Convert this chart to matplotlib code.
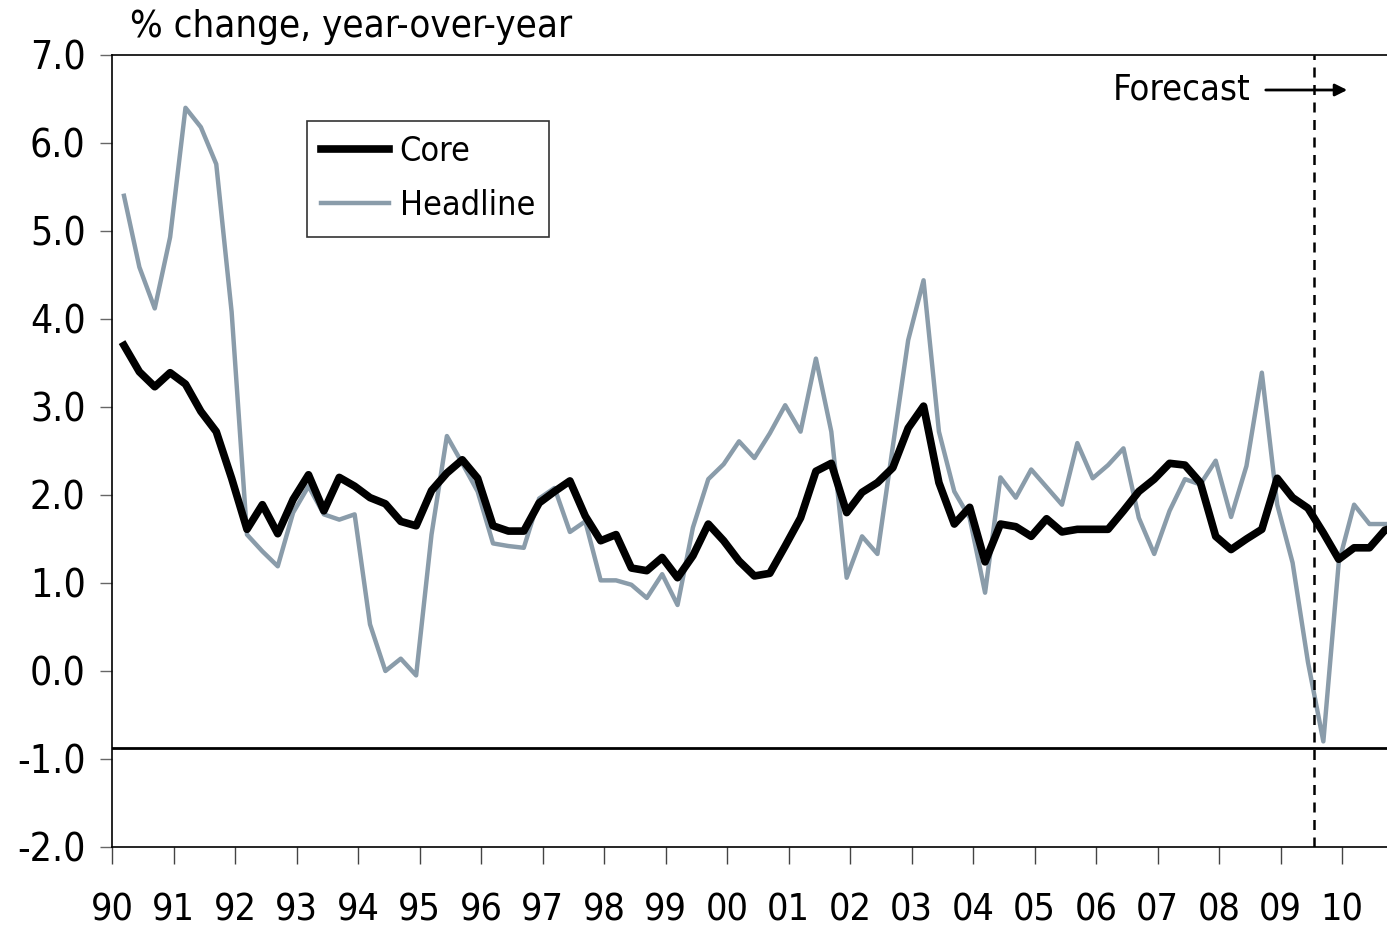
import numpy as np
import matplotlib
matplotlib.use("Agg")
import matplotlib.pyplot as plt

# quarterly data, 1990Q1 onwards
core = [3.70, 3.40, 3.23, 3.39, 3.26, 2.95, 2.72, 2.19,
        1.61, 1.89, 1.56, 1.95, 2.23, 1.82, 2.20, 2.10,
        1.97, 1.90, 1.70, 1.65, 2.05, 2.25, 2.40, 2.19,
        1.65, 1.59, 1.59, 1.91, 2.04, 2.16, 1.76, 1.48,
        1.55, 1.17, 1.14, 1.29, 1.06, 1.31, 1.67, 1.48,
        1.25, 1.08, 1.11, 1.42, 1.74, 2.27, 2.36, 1.80,
        2.03, 2.14, 2.31, 2.76, 3.01, 2.14, 1.67, 1.86,
        1.24, 1.67, 1.64, 1.53, 1.73, 1.58, 1.61, 1.61,
        1.61, 1.82, 2.04, 2.18, 2.36, 2.34, 2.14, 1.53,
        1.38, 1.50, 1.61, 2.19, 1.97, 1.85, 1.57, 1.27,
        1.40, 1.40, 1.60, 1.65]
headline = [5.40, 4.59, 4.12, 4.93, 6.40, 6.18, 5.76, 4.08,
            1.55, 1.36, 1.19, 1.80, 2.10, 1.78, 1.72, 1.78,
            0.53, 0.00, 0.14, -0.05, 1.55, 2.67, 2.36, 2.04,
            1.45, 1.42, 1.40, 1.96, 2.08, 1.58, 1.70, 1.03,
            1.03, 0.98, 0.83, 1.10, 0.75, 1.63, 2.18, 2.35,
            2.61, 2.42, 2.70, 3.02, 2.72, 3.55, 2.72, 1.06,
            1.53, 1.33, 2.55, 3.76, 4.44, 2.72, 2.04, 1.74,
            0.89, 2.20, 1.97, 2.29, 2.09, 1.89, 2.59, 2.19,
            2.34, 2.53, 1.74, 1.33, 1.82, 2.18, 2.12, 2.39,
            1.75, 2.33, 3.39, 1.89, 1.23, 0.10, -0.80, 1.23,
            1.89, 1.67, 1.67, 1.67]
years = list(range(1990, 2011))
year_labels = ["%02d" % (y % 100) for y in years]
forecast_start = 2009.545
base_line = -0.88

plt.rcParams['font.family'] = ['DejaVu Sans']
plt.rcParams['font.stretch'] = 'condensed'

x = 1990 + 0.195 + np.arange(len(core)) / 4.0

fig = plt.figure(figsize=(13.87, 9.31), dpi=100)
ax = fig.add_axes([112/1387, 84/931, 1275/1387, 792/931])

ax.plot(x, core, color='black', lw=5.5, label='Core', zorder=4)
ax.plot(x, headline, color='#8a9caa', lw=3.2, label='Headline', zorder=3)

ax.axhline(base_line, color='black', lw=2, zorder=2)
ax.axvline(forecast_start, color='black', lw=1.8, ls=(0, (4, 3)), zorder=5)

ax.set_xlim(1990, 2010.73)
ax.set_ylim(-2, 7)
ax.set_xticks(years)
ax.set_xticklabels(year_labels, fontsize=27)
ax.set_yticks(np.arange(-2, 8, 1))
ax.set_yticklabels(["%.1f" % v for v in np.arange(-2, 8, 1)], fontsize=28)
ax.tick_params(axis='x', direction='out', length=12, width=1, pad=21, color='#444444')
ax.tick_params(axis='y', direction='out', length=9, width=1, pad=10, color='#666666')
ax.spines['right'].set_visible(False)
for s in ['left', 'top', 'bottom']:
    ax.spines[s].set_linewidth(1.2)

fig.text(130/1387, 1 - 27/931, "% change, year-over-year", fontsize=27.5, va='center', ha='left')

ax.annotate("", xy=(1350/1387, 1 - 90/931), xytext=(1263/1387, 1 - 90/931),
            xycoords='figure fraction', textcoords='figure fraction',
            arrowprops=dict(arrowstyle='-|>', color='black', lw=2, mutation_scale=18))
fig.text(1250/1387, 1 - 90/931, "Forecast", fontsize=26, ha='right', va='center')

leg = ax.legend(loc='upper left', bbox_to_anchor=((307-112)/1275, (847-121)/792),
                fontsize=24.5, frameon=True, fancybox=False, edgecolor='black',
                handlelength=2.0, borderpad=0.42, labelspacing=0.62, handletextpad=0.3,
                borderaxespad=0)
leg.get_frame().set_linewidth(1.2)

fig.savefig("out.png", dpi=100)
